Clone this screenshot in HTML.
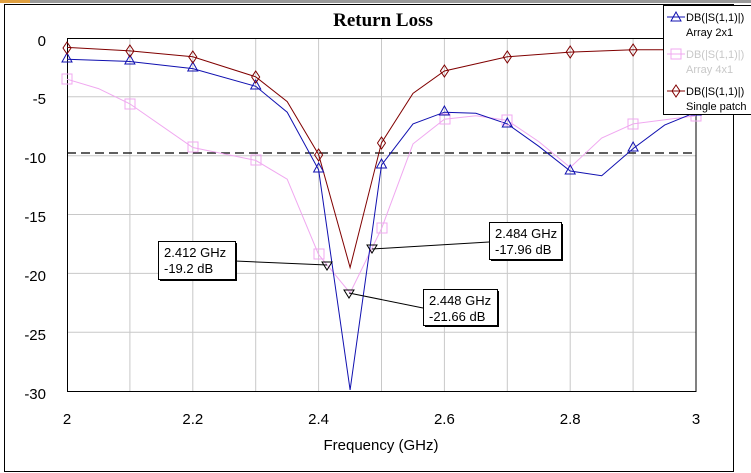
<!DOCTYPE html><html><head><style>body{margin:0;background:#fff}svg{display:block}</style></head><body>
<svg width="751" height="473" xmlns="http://www.w3.org/2000/svg" font-family="Liberation Sans, sans-serif">
<rect width="751" height="473" fill="#fff"/>
<rect x="0" y="0" width="751" height="3" fill="#9a9a9a"/>
<rect x="0" y="0" width="30" height="3" fill="#e0a040"/>
<rect x="4.5" y="4.5" width="729" height="467" fill="none" stroke="#000"/>
<text x="383" y="26" font-family="Liberation Serif, serif" font-weight="bold" font-size="19" text-anchor="middle">Return Loss</text>
<g stroke="#c8c8c8" stroke-width="1">
<line x1="129.9" y1="38" x2="129.9" y2="391"/><line x1="192.8" y1="38" x2="192.8" y2="391"/><line x1="255.7" y1="38" x2="255.7" y2="391"/><line x1="318.6" y1="38" x2="318.6" y2="391"/><line x1="381.5" y1="38" x2="381.5" y2="391"/><line x1="444.4" y1="38" x2="444.4" y2="391"/><line x1="507.3" y1="38" x2="507.3" y2="391"/><line x1="570.2" y1="38" x2="570.2" y2="391"/><line x1="633.1" y1="38" x2="633.1" y2="391"/>
<line x1="67" y1="96.8" x2="696" y2="96.8"/><line x1="67" y1="155.7" x2="696" y2="155.7"/><line x1="67" y1="214.5" x2="696" y2="214.5"/><line x1="67" y1="273.4" x2="696" y2="273.4"/><line x1="67" y1="332.2" x2="696" y2="332.2"/>
</g>
<rect x="67.5" y="38.5" width="628.5" height="353" fill="none" stroke="#000"/>
<line x1="67" y1="153" x2="696" y2="153" stroke="#000" stroke-dasharray="9,5" stroke-width="1.2"/>
<g font-size="15" fill="#000">
<text x="46" y="46" text-anchor="end">0</text><text x="46" y="104" text-anchor="end">-5</text><text x="46" y="163" text-anchor="end">-10</text><text x="46" y="222" text-anchor="end">-15</text><text x="46" y="281" text-anchor="end">-20</text><text x="46" y="340" text-anchor="end">-25</text><text x="46" y="399" text-anchor="end">-30</text>
<g text-anchor="middle"><text x="67" y="424">2</text><text x="192.8" y="424">2.2</text><text x="318.6" y="424">2.4</text><text x="444.4" y="424">2.6</text><text x="570.2" y="424">2.8</text><text x="696" y="424">3</text>
<text x="381" y="450">Frequency (GHz)</text></g>
</g>
<polyline fill="none" stroke="#f0a8f0" stroke-width="1" points="67,79.2 98.5,88.6 129.9,103.9 192.8,147.5 255.7,160.4 287.2,179.2 318.6,254.6 350.1,293 381.5,228.7 413,143.9 444.4,119.2 475.9,115.7 507.3,120.4 538.8,141.6 570.2,167.5 601.7,138 633.1,123.9 696,115.7"/>
<polyline fill="none" stroke="#1010b0" stroke-width="1" points="67,59.2 129.9,61.5 192.8,68.6 255.7,86.3 287.2,112.2 318.6,169.8 350.1,389.9 381.5,165.1 413,123.9 444.4,112.2 475.9,113.3 507.3,123.9 538.8,146.3 570.2,171 601.7,175.7 633.1,148.6 664.6,125.1 696,112.2"/>
<polyline fill="none" stroke="#800000" stroke-width="1" points="67,47.4 129.9,50.9 192.8,56.8 255.7,76.8 287.2,101.6 318.6,154.5 350.1,267.5 381.5,142.8 413,93.3 444.4,71 507.3,56.8 570.2,52.1 633.1,49.8 696,49.8"/>
<g fill="none" stroke="#f0a8f0">
<rect x="62" y="74" width="10" height="10"/><rect x="125" y="99" width="10" height="10"/><rect x="188" y="142" width="10" height="10"/><rect x="251" y="155" width="10" height="10"/><rect x="314" y="249" width="10" height="10"/><rect x="377" y="223" width="10" height="10"/><rect x="440" y="114" width="10" height="10"/><rect x="502" y="115" width="10" height="10"/><rect x="628" y="119" width="10" height="10"/><rect x="691" y="111" width="10" height="10"/>
</g>
<g fill="none" stroke="#1010b0">
<path d="M67,53 l-5,9 h10z M129.9,55 l-5,9 h10z M192.8,62 l-5,9 h10z M255.7,80 l-5,9 h10z M318.6,163 l-5,9 h10z M381.5,159 l-5,9 h10z M444.4,106 l-5,9 h10z M507.3,118 l-5,9 h10z M570.2,165 l-5,9 h10z M633.1,142 l-5,9 h10z M696,106 l-5,9 h10z"/>
</g>
<g fill="none" stroke="#800000">
<path d="M67,42 l4,6 -4,6 -4,-6z M129.9,45 l4,6 -4,6 -4,-6z M192.8,51 l4,6 -4,6 -4,-6z M255.7,71 l4,6 -4,6 -4,-6z M318.6,149 l4,6 -4,6 -4,-6z M381.5,137 l4,6 -4,6 -4,-6z M444.4,65 l4,6 -4,6 -4,-6z M507.3,51 l4,6 -4,6 -4,-6z M570.2,46 l4,6 -4,6 -4,-6z M633.1,44 l4,6 -4,6 -4,-6z"/>
</g>
<g stroke="#000" fill="none">
<line x1="235" y1="261" x2="327" y2="265"/><line x1="489" y1="242" x2="372" y2="249"/><line x1="423" y1="308" x2="349" y2="293"/>
<path d="M322,262 h10 l-5,8z M367,245 h10 l-5,8z M344,290 h10 l-5,8z"/>
</g>
<g font-size="13">
<rect x="158.5" y="241.5" width="77" height="38" fill="#fff" stroke="#000"/><line x1="236" y1="243" x2="236" y2="281" stroke="#000" stroke-width="2"/><line x1="160" y1="280" x2="236" y2="280" stroke="#000" stroke-width="2"/>
<text x="164" y="257">2.412 GHz</text><text x="164" y="273">-19.2 dB</text>
<rect x="489.5" y="222.5" width="72" height="37" fill="#fff" stroke="#000"/><line x1="562" y1="224" x2="562" y2="261" stroke="#000" stroke-width="2"/><line x1="491" y1="260" x2="562" y2="260" stroke="#000" stroke-width="2"/>
<text x="495" y="238">2.484 GHz</text><text x="495" y="254">-17.96 dB</text>
<rect x="423.5" y="289.5" width="74" height="36" fill="#fff" stroke="#000"/><line x1="498" y1="291" x2="498" y2="327" stroke="#000" stroke-width="2"/><line x1="425" y1="326" x2="498" y2="326" stroke="#000" stroke-width="2"/>
<text x="429" y="305">2.448 GHz</text><text x="429" y="321">-21.66 dB</text>
</g>
<rect x="663.5" y="5.5" width="90" height="109" fill="#fff" stroke="#000"/>
<g font-size="11">
<line x1="667" y1="17" x2="685" y2="17" stroke="#1010b0"/><path d="M676,12 l-5,9 h10z" fill="none" stroke="#1010b0"/>
<text x="686" y="21">DB(|S(1,1)|)</text><text x="686" y="36">Array 2x1</text>
<line x1="667" y1="54" x2="685" y2="54" stroke="#f0a8f0"/><rect x="671" y="49" width="10" height="10" fill="none" stroke="#f0a8f0"/>
<text x="686" y="58" fill="#c8c8c8">DB(|S(1,1)|)</text><text x="686" y="73" fill="#c8c8c8">Array 4x1</text>
<line x1="667" y1="91" x2="685" y2="91" stroke="#800000"/><path d="M676,85 l4,6 -4,6 -4,-6z" fill="none" stroke="#800000"/>
<text x="686" y="95">DB(|S(1,1)|)</text><text x="686" y="110">Single patch</text>
</g>
</svg>
</body></html>
